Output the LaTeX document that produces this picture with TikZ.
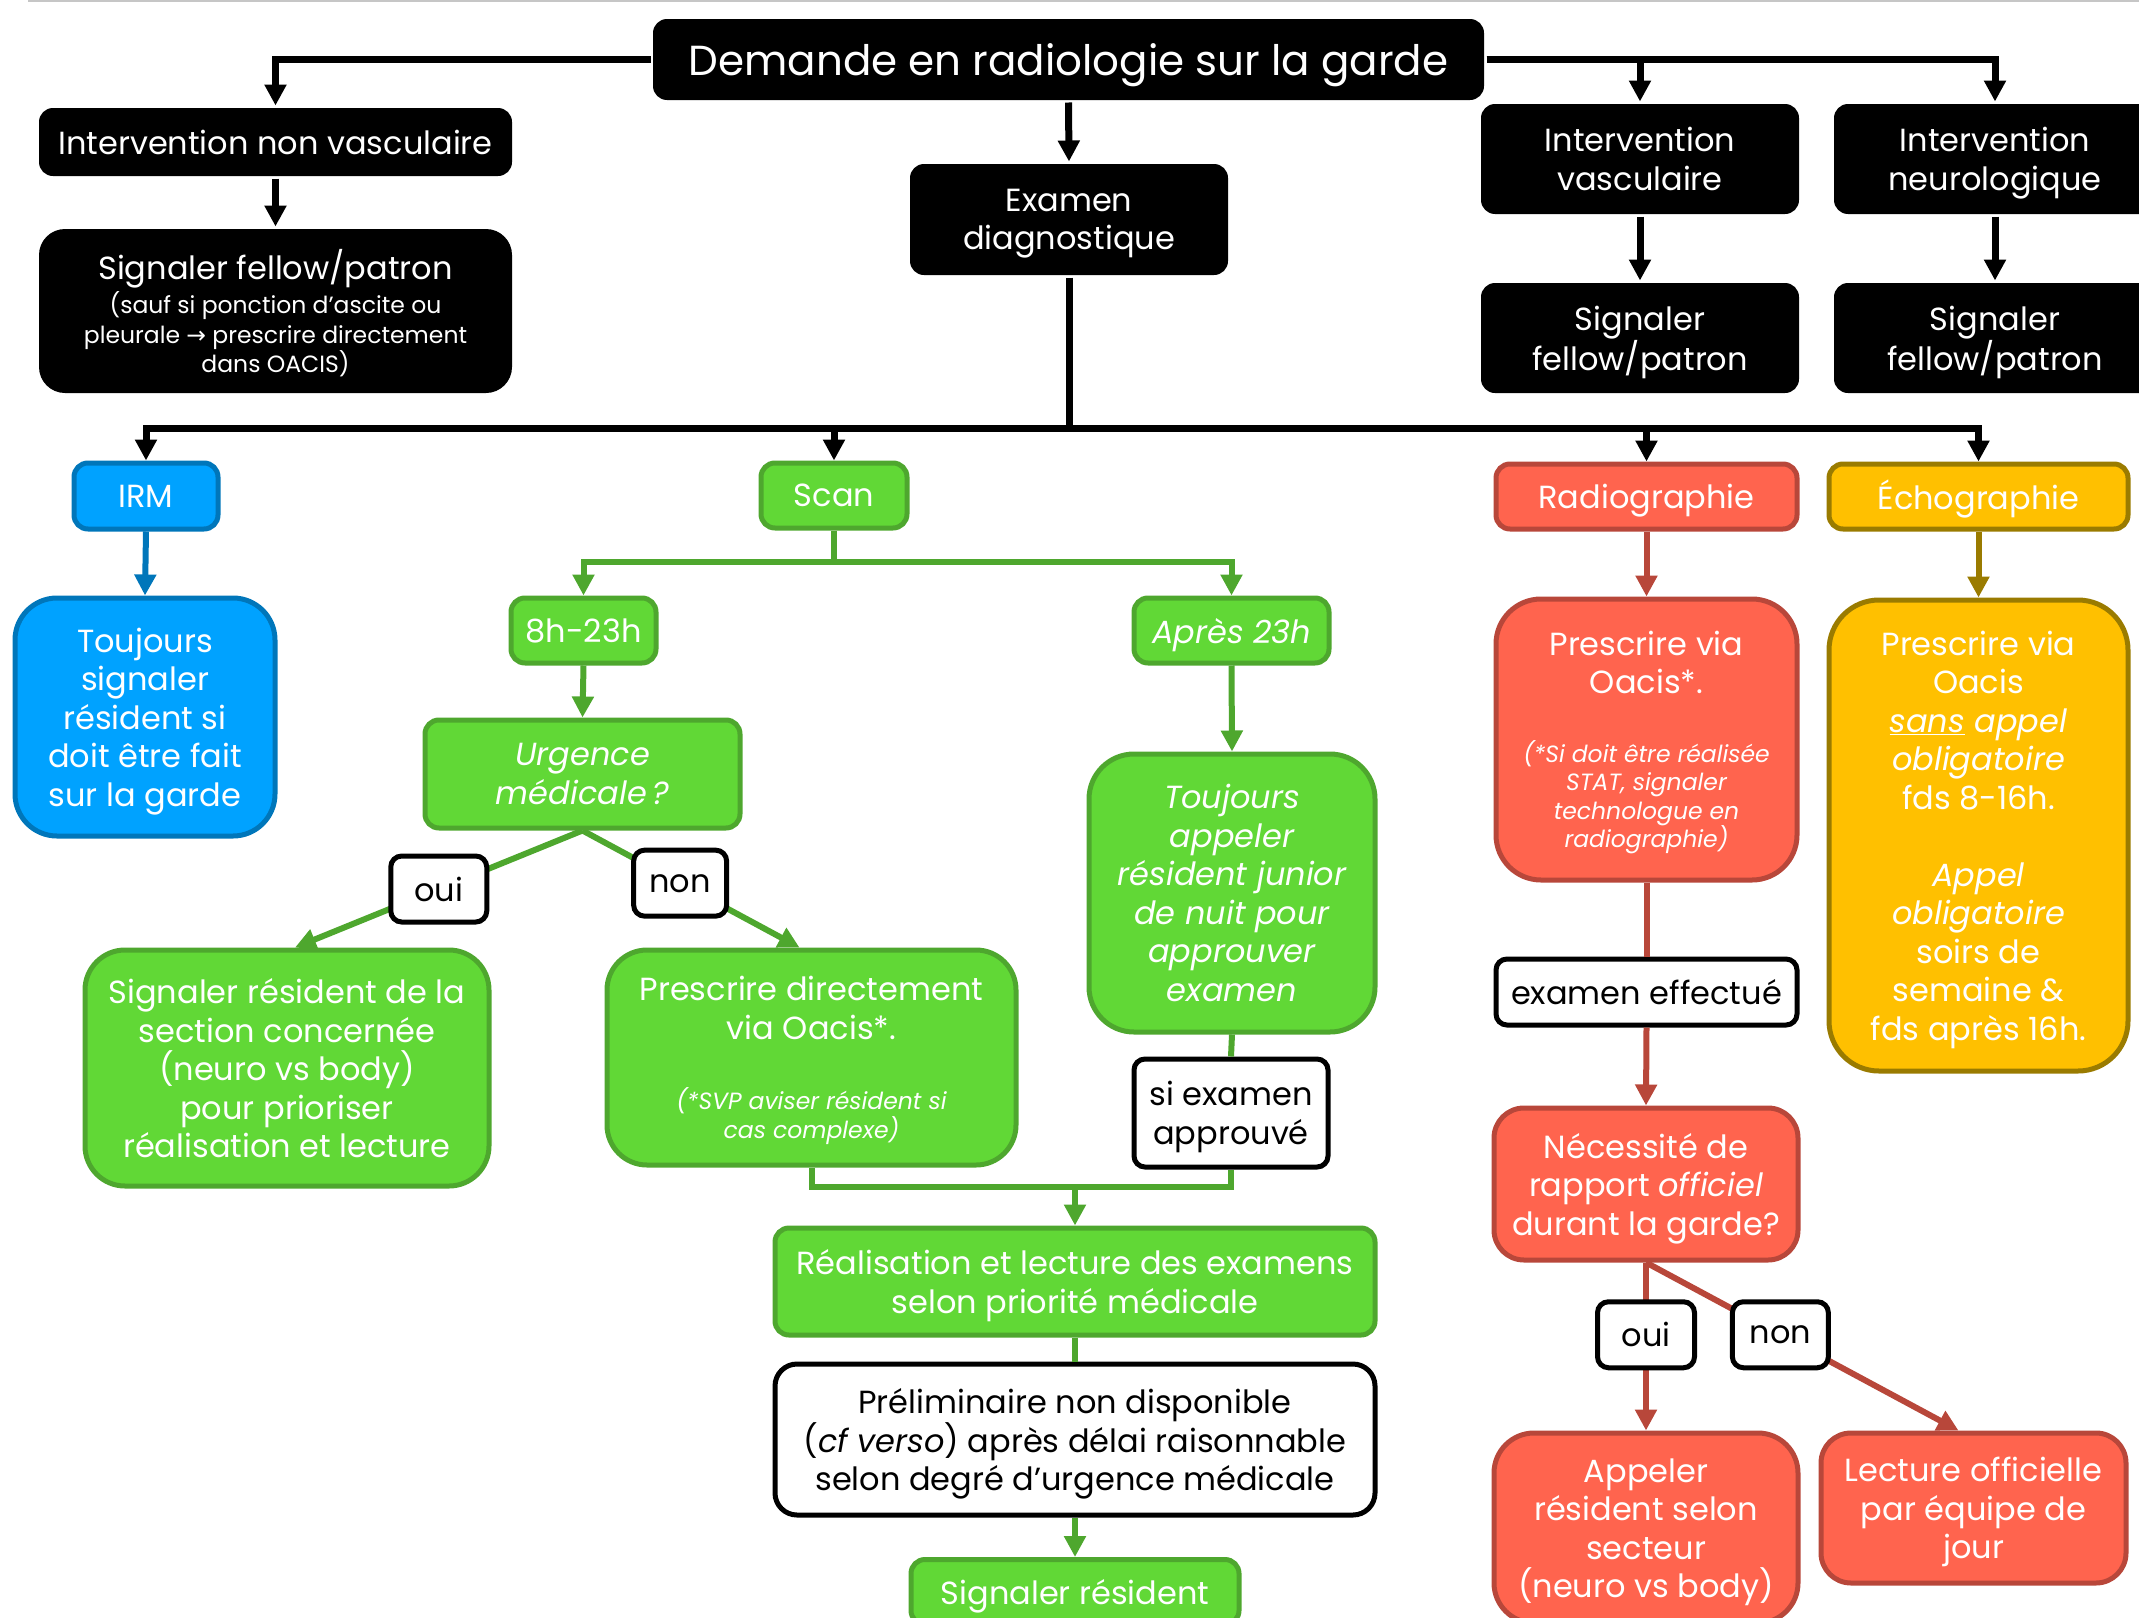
\documentclass[tikz,border=0pt]{standalone}
\usepackage{fontspec}
\setmainfont{Poppins}
\newfontfamily\arrowfont{DejaVu Sans}
\usepackage{tikz}
\usetikzlibrary{arrows.meta}
\usetikzlibrary{calc}

\definecolor{irmfill}{HTML}{00A2FF}
\definecolor{irmline}{HTML}{0076BA}
\definecolor{scanfill}{HTML}{61D836}
\definecolor{scanline}{HTML}{4EA72E}
\definecolor{radfill}{HTML}{FF644E}
\definecolor{radline}{HTML}{B8473A}
\definecolor{echofill}{HTML}{FFC000}
\definecolor{echoline}{HTML}{9A7B00}

\newcommand{\bodysize}{\fontsize{32}{38.5}\selectfont}
\newcommand{\notesize}{\fontsize{23.5}{28.5}\selectfont}
\newcommand{\notetext}{\notesize\itshape}
\newcommand{\titlesize}{\fontsize{42}{48}\selectfont}

\begin{document}
\begin{tikzpicture}[x=1pt,y=-1pt,
  box/.style={rounded corners=14pt,align=center,inner sep=0pt,text depth=0pt,font=\bodysize,line width=5pt},
  blk/.style={box,fill=black,text=white},
  blu/.style={box,draw=irmline,fill=irmfill,text=white},
  grn/.style={box,draw=scanline,fill=scanfill,text=white},
  rad/.style={box,draw=radline,fill=radfill,text=white},
  ech/.style={box,draw=echoline,fill=echofill,text=white},
  wht/.style={box,draw=black,fill=white,text=black,rounded corners=11pt},
  arr/.style={line width=6pt,draw=#1,-{Triangle[length=21pt,width=21pt]}},
  lin/.style={line width=6pt,draw=#1},
  arr/.default=black, lin/.default=black]
\path[use as bounding box,clip] (0,0) rectangle (2139,1617);
\draw[gray!45,line width=2pt] (28,1) -- (2139,1);

\node[blk,font=\titlesize,minimum width=831pt,minimum height=81pt] (demande) at (1068.5,59.5) {Demande en radiologie sur la garde};
\node[blk,minimum width=473pt,minimum height=68pt] (nonvasc) at (275.5,142) {Intervention non vasculaire};
\node[blk,rounded corners=26pt,minimum width=473pt,minimum height=164pt] (fellowA) at (275.5,311) {Signaler fellow/patron\\[-4pt]\notesize (sauf si ponction d’ascite ou\\[-9pt]\notesize pleurale {\arrowfont →} prescrire directement\\[-9pt]\notesize dans OACIS)};
\node[blk,minimum width=318pt,minimum height=111pt] (examen) at (1069,219.5) {Examen\\diagnostique};
\node[blk,minimum width=318pt,minimum height=110pt] (vasc) at (1640,159) {Intervention\\vasculaire};
\node[blk,minimum width=322pt,minimum height=110pt] (neuro) at (1995,159) {Intervention\\neurologique};
\node[blk,minimum width=318pt,minimum height=110pt] (fellowB) at (1640,338) {Signaler\\fellow/patron};
\node[blk,minimum width=322pt,minimum height=110pt] (fellowC) at (1995,338) {Signaler\\fellow/patron};

\node[blu,minimum width=144pt,minimum height=66pt] (irm) at (146,496) {IRM};
\node[grn,minimum width=146pt,minimum height=65pt] (scan) at (834,495.5) {Scan};
\node[rad,minimum width=301pt,minimum height=65pt] (radio) at (1646.5,496.5) {Radiographie};
\node[ech,text height=25pt,minimum width=299pt,minimum height=65pt] (echo) at (1978.5,496.5) {Échographie};

\node[blu,rounded corners=42pt,minimum width=260pt,minimum height=238pt] (irmnote) at (145,717) {Toujours\\signaler\\résident si\\doit être fait\\sur la garde};
\node[grn,minimum width=145pt,minimum height=65pt] (jour) at (583.5,630.5) {8h-23h};
\node[grn,font=\bodysize\itshape,minimum width=195pt,minimum height=65pt] (nuit) at (1231.5,630.5) {Après 23h};
\node[grn,font=\bodysize\itshape,minimum width=315pt,minimum height=108pt] (urgence) at (582.5,774) {Urgence\\médicale\,?};
\node[grn,font=\bodysize\itshape,rounded corners=45pt,minimum width=286pt,minimum height=278pt] (junior) at (1232,893) {Toujours\\appeler\\résident junior\\de nuit pour\\approuver\\examen};
\node[rad,rounded corners=45pt,minimum width=301pt,minimum height=281pt] (radiopres) at (1646.5,739.5) {Prescrire via\\Oacis*.\\[30pt]\notetext (*Si doit être réalisée\\[-10pt]\notetext STAT, signaler\\[-10pt]\notetext technologue en\\[-10pt]\notetext radiographie)};
\node[ech,rounded corners=50pt,minimum width=299pt,minimum height=471pt] (echopres) at (1978.5,835.5) {Prescrire via\\Oacis\\\textit{\underline{sans} appel}\\\textit{obligatoire}\\fds 8-16h.\\[38.5pt]\textit{Appel}\\\textit{obligatoire}\\soirs de\\semaine \&\\fds après 16h.};

\node[grn,rounded corners=40pt,minimum width=404pt,minimum height=236pt] (section) at (287,1068) {Signaler résident de la\\section concernée\\(neuro vs body)\\pour prioriser\\réalisation et lecture};
\node[grn,rounded corners=40pt,minimum width=409pt,minimum height=215pt] (presdirect) at (811.5,1057.5) {Prescrire directement\\via Oacis*.\\[32pt]\notetext (*SVP aviser résident si\\[-10pt]\notetext cas complexe)};
\node[wht,minimum width=194pt,minimum height=108pt] (siexamen) at (1231,1113) {si examen\\approuvé};
\node[wht,minimum width=301pt,minimum height=66pt] (effectue) at (1646.5,992) {examen effectué};
\node[grn,minimum width=600pt,minimum height=107pt] (realisation) at (1075,1281.5) {Réalisation et lecture des examens\\selon priorité médicale};
\node[wht,rounded corners=22pt,minimum width=600pt,minimum height=151pt] (prelim) at (1075,1439.5) {Préliminaire non disponible\\(\textit{cf verso}) après délai raisonnable\\selon degré d’urgence médicale};
\node[grn,minimum width=328pt,minimum height=65pt] (sigres) at (1075,1592) {Signaler résident};
\node[rad,rounded corners=30pt,minimum width=304pt,minimum height=152pt] (necessite) at (1646,1184) {Nécessité de\\rapport \textit{officiel}\\durant la garde?};
\node[rad,rounded corners=40pt,minimum width=304pt,minimum height=190pt] (appeler) at (1646,1528) {Appeler\\résident selon\\secteur\\(neuro vs body)};
\node[rad,rounded corners=30pt,minimum width=305pt,minimum height=150pt] (lecture) at (1973.5,1508) {Lecture officielle\\par équipe de\\jour};

\coordinate (bus) at (1069,428);
\coordinate (scansplit) at (834,562);
\coordinate (merge) at (1075,1187);

\draw[arr,line width=7pt] (demande.west) -| (nonvasc.north);
\draw[arr,line width=7pt] (demande.east) -| (vasc.north);
\draw[arr,line width=7pt] (demande.east) -| (neuro.north);
\draw[arr,line width=7pt] (demande.south) -- (examen.north);
\draw[arr,line width=7pt] (nonvasc.south) -- (fellowA.north);
\draw[arr,line width=7pt] (vasc.south) -- (fellowB.north);
\draw[arr,line width=7pt] (neuro.south) -- (fellowC.north);
\draw[lin,line width=7pt] (examen.south) -- (bus);
\draw[arr,line width=7pt] (bus) -| (irm.north);
\draw[arr,line width=7pt] (bus) -| (scan.north);
\draw[arr,line width=7pt] (bus) -| (radio.north);
\draw[arr,line width=7pt] (bus) -| (echo.north);

\draw[arr=irmline] (irm.south) -- (irmnote.north);
\draw[lin=scanline] (scan.south) -- (scansplit);
\draw[arr=scanline] (scansplit) -| (jour.north);
\draw[arr=scanline] (scansplit) -| (nuit.north);
\draw[arr=scanline] (jour.south) -- (urgence.north);
\draw[arr=scanline] (nuit.south) -- (junior.north);
\draw[arr=scanline] (urgence.south) -- node[wht,minimum width=96pt,minimum height=66pt,pos=0.5] (oui1) {oui} ($(section.north)+(8,0)$);
\draw[arr=scanline] (urgence.south) -- node[wht,minimum width=93pt,minimum height=66pt,pos=0.45] (non1) {non} ($(presdirect.north)+(-12,0)$);
\draw[lin=scanline] (junior.south) -- (siexamen.north);
\draw[lin=scanline] (presdirect.south) |- (merge);
\draw[lin=scanline] (siexamen.south) |- (merge);
\draw[arr=scanline] (merge) -- (realisation.north);
\draw[lin=scanline] (realisation.south) -- (prelim.north);
\draw[arr=scanline] (prelim.south) -- (sigres.north);

\draw[arr=radline] (radio.south) -- (radiopres.north);
\draw[lin=radline] (radiopres.south) -- (effectue.north);
\draw[arr=radline] (effectue.south) -- (necessite.north);
\draw[arr=radline] (necessite.south) -- node[wht,minimum width=97pt,minimum height=66pt,pos=0.43] (oui2) {oui} (appeler.north);
\draw[arr=radline] (necessite.south) -- node[wht,minimum width=96pt,minimum height=66pt,pos=0.43] (non2) {non} ($(lecture.north)+(-15,0)$);
\draw[arr=echoline] (echo.south) -- (echopres.north);
\end{tikzpicture}
\end{document}
